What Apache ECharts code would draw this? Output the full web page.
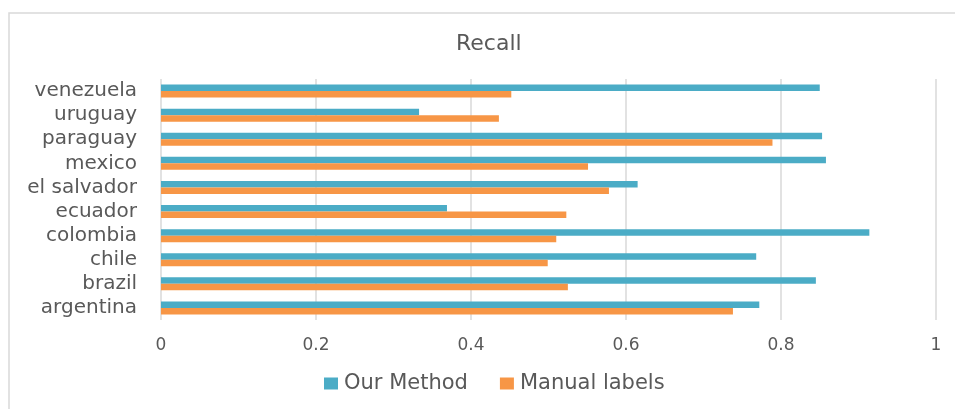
<!DOCTYPE html>
<html lang="en">
<head>
    <meta charset="UTF-8">
    <title>Recall</title>
    <script src="https://cdn.jsdelivr.net/npm/echarts@6/dist/echarts.min.js"></script>
    <style>
        html, body { margin: 0; padding: 0; background: #fff; }
    </style>
</head>
<body>
<div id="main" style="width: 955px;height:409px"></div>
<script>
    const myChart = echarts.init(document.getElementById('main'))

    // bottom to top, as on the chart
    const countries = ['argentina', 'brazil', 'chile', 'colombia', 'ecuador',
        'el salvador', 'mexico', 'paraguay', 'uruguay', 'venezuela']
    const ourMethod = [0.772, 0.845, 0.768, 0.914, 0.369, 0.615, 0.858, 0.853, 0.333, 0.850]
    const manualLabels = [0.738, 0.525, 0.499, 0.510, 0.523, 0.578, 0.551, 0.789, 0.436, 0.452]
    const xTicks = [0, 0.2, 0.4, 0.6, 0.8, 1]

    const textColor = '#595959'
    const font = 'DejaVu Sans'

    const option = {
        animation: false,
        textStyle: { fontFamily: font },
        title: {
            text: 'Recall',
            left: 451,
            top: 28,
            textStyle: { fontFamily: font, fontSize: 22, fontWeight: 'normal', color: textColor }
        },
        graphic: [{
            type: 'rect',
            shape: { x: 9, y: 13, width: 960, height: 420 },
            style: { fill: 'none', stroke: '#d9d9d9', lineWidth: 1.5 },
            silent: true
        }],
        legend: {
            data: ['Our Method', 'Manual labels'],
            bottom: 10,
            left: 319,
            itemWidth: 14,
            itemHeight: 12,
            itemGap: 32,
            icon: 'rect',
            textStyle: { fontFamily: font, fontSize: 21, color: textColor, padding: [0, 0, 0, 1] }
        },
        grid: {
            left: 161,
            right: 19,
            top: 79,
            bottom: 89,
            containLabel: false
        },
        xAxis: {
            type: 'value',
            min: 0,
            max: 1,
            interval: 0.2,
            axisLine: { show: false },
            axisTick: { show: false },
            axisLabel: {
                fontFamily: font,
                fontSize: 17,
                color: textColor,
                margin: 17,
                formatter: function (v) {
                    const t = xTicks.find(x => Math.abs(x - v) < 1e-9)
                    return t === undefined ? '' : String(t)
                }
            },
            splitLine: { lineStyle: { color: '#d9d9d9', width: 1.5 } }
        },
        yAxis: {
            type: 'category',
            data: countries,
            axisLine: { show: false },
            axisTick: { show: false },
            axisLabel: { fontFamily: font, fontSize: 20, color: textColor, margin: 24, interval: 0 }
        },
        series: [
            {
                name: 'Our Method',
                type: 'bar',
                data: ourMethod,
                itemStyle: { color: '#4bacc6' },
                barGap: '0%',
                barCategoryGap: '46%'
            },
            {
                name: 'Manual labels',
                type: 'bar',
                data: manualLabels,
                itemStyle: { color: '#f79646' },
                barGap: '0%',
                barCategoryGap: '46%'
            }
        ]
    };

    myChart.setOption(option);
</script>
</body>
</html>
